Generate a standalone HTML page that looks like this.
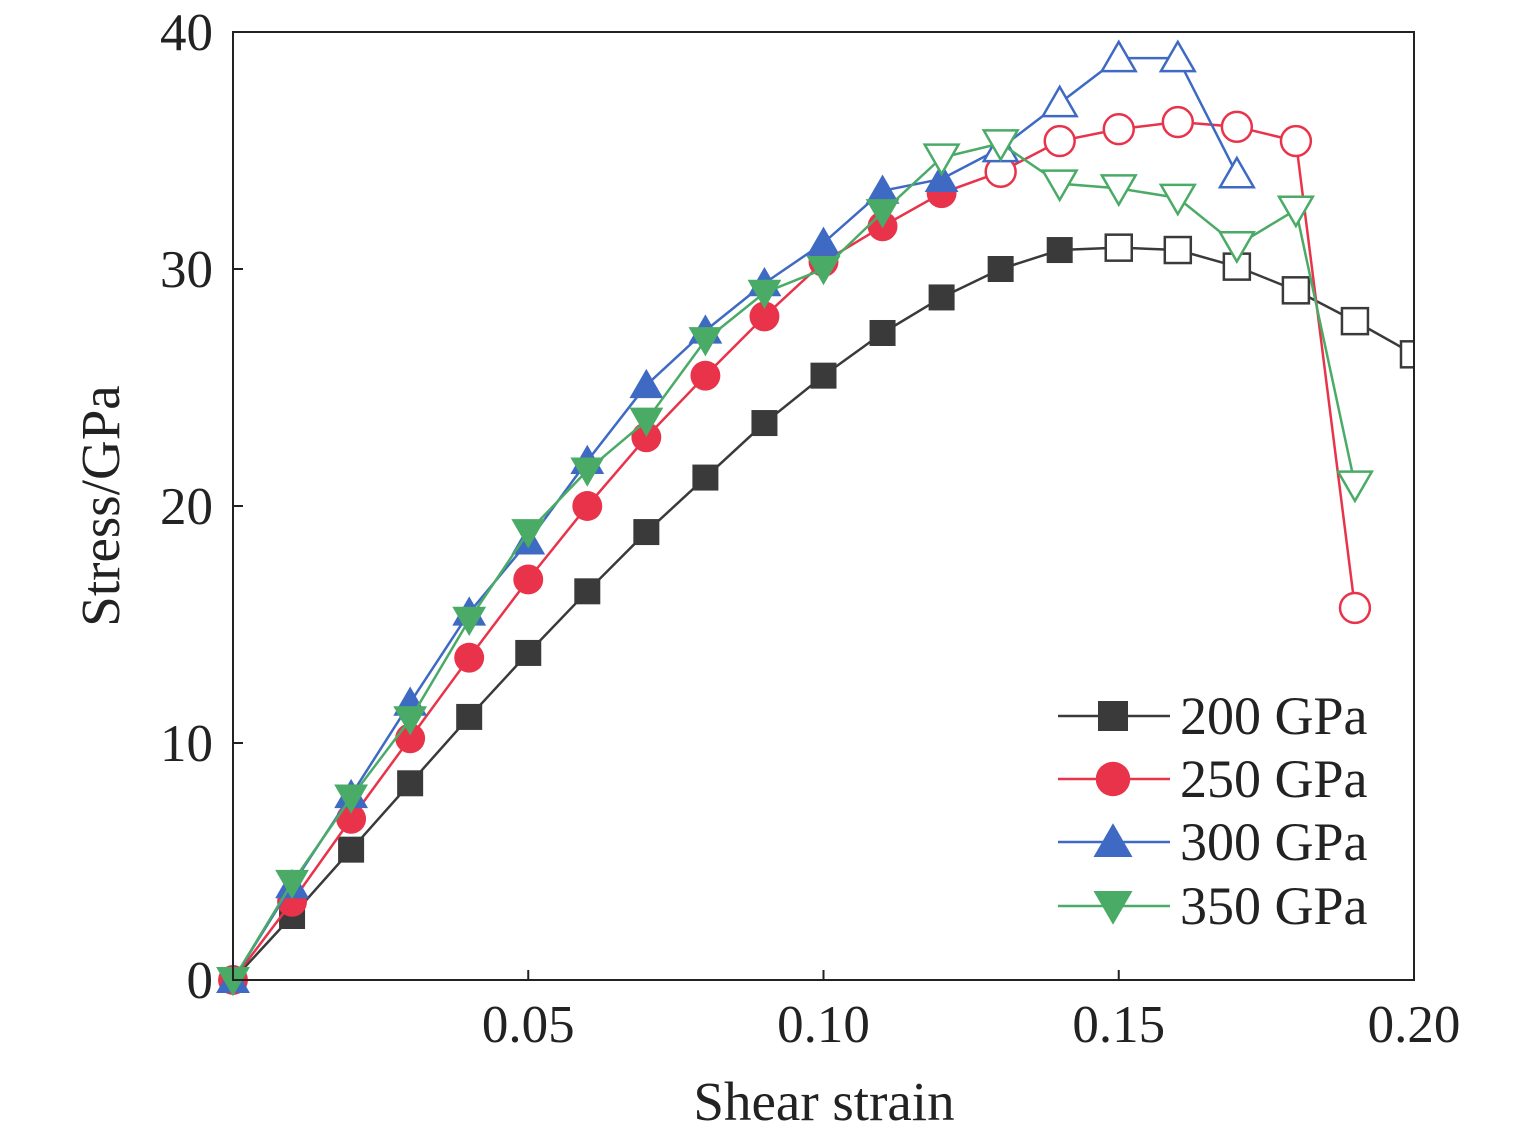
<!DOCTYPE html>
<html><head><meta charset="utf-8"><style>
body{margin:0;background:#fff;}
svg{display:block;font-family:"Liberation Serif",serif;}
</style></head><body>
<svg id="chart" width="1535" height="1138" viewBox="0 0 1535 1138" xmlns="http://www.w3.org/2000/svg"></svg>
<script>
const strains=[0,0.01,0.02,0.03,0.04,0.05,0.06,0.07,0.08,0.09,0.10,0.11,0.12,0.13,0.14,0.15,0.16,0.17,0.18,0.19,0.20];
const s200=[0,2.7,5.5,8.3,11.1,13.8,16.4,18.9,21.2,23.5,25.5,27.3,28.8,30.0,30.8,30.9,30.8,30.1,29.1,27.8,26.4];
const s250=[0,3.3,6.8,10.2,13.6,16.9,20.0,22.9,25.5,28.0,30.3,31.8,33.2,34.1,35.4,35.9,36.2,36.0,35.4,15.7];
const s300=[0,4.0,7.8,11.7,15.5,18.5,21.9,25.1,27.4,29.4,31.1,33.3,33.8,35.1,37.0,38.9,38.9,34.0];
const s350=[0,4.1,7.7,11.0,15.2,18.9,21.5,23.6,27.0,29.0,30.0,32.4,34.7,35.3,33.6,33.4,33.0,31.0,32.5,20.9];
const seriesNames=["200 GPa","250 GPa","300 GPa","350 GPa"];
const hollowFrom=[15,13,13,12];
const xTicks=[0.05,0.10,0.15,0.20];
const xTickLabels=["0.05","0.10","0.15","0.20"];
const yTicks=[0,10,20,30,40];
const yTickLabels=["0","10","20","30","40"];

const NS="http://www.w3.org/2000/svg";
const svg=document.getElementById('chart');
const X0=233,X1=1414,Y0=980,Y1=32;
const xs=v=>X0+(v/0.20)*(X1-X0);
const ys=v=>Y0-(v/40)*(Y0-Y1);
function mk(tag,attrs,parent){const e=document.createElementNS(NS,tag);for(const k in attrs)e.setAttribute(k,attrs[k]);(parent||svg).appendChild(e);return e;}

const defs=mk('clipPath',{id:'clip'});
mk('rect',{x:X0-20,y:Y1-20,width:X1-X0+20,height:Y0-Y1+40},defs);

const colors=["#3a3a3a","#e8334a","#3e6ac4","#4aab66"];
const shapes=["square","circle","up","down"];
const data=[s200,s250,s300,s350];

function marker(g,shape,cx,cy,col,hollow,sz){
  const fill=hollow?"#fff":col, sw=hollow?2.5:0;
  let e;
  if(shape==="square") e=mk('rect',{x:cx-sz,y:cy-sz,width:2*sz,height:2*sz,fill:fill,stroke:col,'stroke-width':sw},g);
  else if(shape==="circle") e=mk('circle',{cx:cx,cy:cy,r:sz*1.15,fill:fill,stroke:col,'stroke-width':sw},g);
  else if(shape==="up") e=mk('polygon',{points:`${cx},${cy-sz*1.25} ${cx-sz*1.3},${cy+sz} ${cx+sz*1.3},${cy+sz}`,fill:fill,stroke:col,'stroke-width':sw},g);
  else e=mk('polygon',{points:`${cx},${cy+sz*1.25} ${cx-sz*1.3},${cy-sz} ${cx+sz*1.3},${cy-sz}`,fill:fill,stroke:col,'stroke-width':sw},g);
  return e;
}

data.forEach((arr,si)=>{
  const g=mk('g',{'clip-path':'url(#clip)'});
  
  
  const pts=arr.map((v,i)=>xs(strains[i])+','+ys(v)).join(' ');
  const l=mk('polyline',{points:pts,fill:'none',stroke:colors[si],'stroke-width':2.5},g);
  
  
  arr.forEach((v,i)=>{
    const m=marker(g,shapes[si],xs(strains[i]),ys(v),colors[si],i>=hollowFrom[si],13);
    
    
  });
});

const frame=mk('rect',{x:X0,y:Y1,width:X1-X0,height:Y0-Y1,fill:'none',stroke:'#222','stroke-width':2});



xTicks.forEach((t,i)=>{
  const x=xs(t);
  const tk=mk('line',{x1:x,y1:Y0,x2:x,y2:Y0-10,stroke:'#222','stroke-width':2});
  
  
  const tx=mk('text',{x:x,y:1042,'font-size':53,'text-anchor':'middle',fill:'#222'});
  tx.textContent=xTickLabels[i];
  
  
});
yTicks.forEach((t,i)=>{
  const y=ys(t);
  const tk=mk('line',{x1:X0,y1:y,x2:X0+10,y2:y,stroke:'#222','stroke-width':2});
  
  
  const tx=mk('text',{x:213,y:y+18,'font-size':53,'text-anchor':'end',fill:'#222'});
  tx.textContent=yTickLabels[i];
  
  
});

const xt=mk('text',{x:824,y:1120,'font-size':55,'text-anchor':'middle',fill:'#222'});
xt.textContent='Shear strain';


const yt=mk('text',{x:0,y:0,'font-size':55,'text-anchor':'middle',fill:'#222',transform:'translate(119,506) rotate(-90)'});
yt.textContent='Stress/GPa';



const legendY=[716,779,842,906];
seriesNames.forEach((n,i)=>{
  const g=mk('g',{});
  
  
  mk('line',{x1:1058,y1:legendY[i],x2:1170,y2:legendY[i],stroke:colors[i],'stroke-width':2.5},g);
  marker(g,shapes[i],1113,legendY[i],colors[i],false,15);
  const t=mk('text',{x:1180,y:legendY[i]+18,'font-size':54,fill:'#222'},g);
  t.textContent=n;
});
</script>
</body></html>
